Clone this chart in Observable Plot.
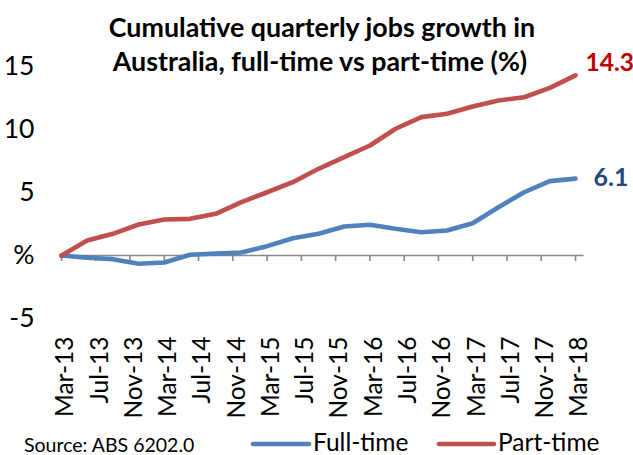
<!DOCTYPE html>
<html><head><meta charset="utf-8">
<script src="https://cdn.jsdelivr.net/npm/d3@7"></script>
<script src="https://cdn.jsdelivr.net/npm/@observablehq/plot@0.6"></script>
<style>
body{margin:0;background:#fff;}
#chart{width:633px;height:455px;overflow:hidden;}
svg{overflow:visible}
</style>
</head><body><div id="chart"></div>
<script>
const quarters = ["Mar-13","Jun-13","Sep-13","Dec-13","Mar-14","Jun-14","Sep-14","Dec-14","Mar-15","Jun-15","Sep-15","Dec-15","Mar-16","Jun-16","Sep-16","Dec-16","Mar-17","Jun-17","Sep-17","Dec-17","Mar-18"];
const fullTime = [0, -0.18, -0.29, -0.66, -0.56, 0.06, 0.16, 0.24, 0.74, 1.37, 1.72, 2.30, 2.44, 2.12, 1.85, 1.98, 2.56, 3.83, 5.02, 5.90, 6.1];
const partTime = [0, 1.19, 1.72, 2.46, 2.86, 2.91, 3.31, 4.23, 5.02, 5.82, 6.88, 7.80, 8.73, 10.06, 10.98, 11.25, 11.83, 12.30, 12.56, 13.30, 14.3];
const tickLabels = ["Mar-13","Jul-13","Nov-13","Mar-14","Jul-14","Nov-14","Mar-15","Jul-15","Nov-15","Mar-16","Jul-16","Nov-16","Mar-17","Jul-17","Nov-17","Mar-18"];
const yTicks = [-5, 0, 5, 10, 15];
const seriesNames = ["Full-time", "Part-time"];
const title = ["Cumulative quarterly jobs growth in", "Australia, full-time vs part-time (%)"];
const source = "Source: ABS 6202.0";

const MONTHS = ["Jan","Feb","Mar","Apr","May","Jun","Jul","Aug","Sep","Oct","Nov","Dec"];
const monthIndex = s => { const [m, y] = s.split("-"); return (2000 + (+y) - 2013) * 12 + MONTHS.indexOf(m) - 2; };

const rows = [];
quarters.forEach((q, i) => {
  rows.push({series: seriesNames[0], m: monthIndex(q), v: fullTime[i]});
  rows.push({series: seriesNames[1], m: monthIndex(q), v: partTime[i]});
});
const tickPos = tickLabels.map(monthIndex);
const labelOf = new Map(tickLabels.map(t => [monthIndex(t), t]));
const colors = {"Full-time": "#4F81BD", "Part-time": "#C0504D"};
const last = quarters.length - 1;
const ends = [
  {series: "Part-time", m: monthIndex(quarters[last]), v: partTime[last], label: partTime[last].toFixed(1)},
  {series: "Full-time", m: monthIndex(quarters[last]), v: fullTime[last], label: fullTime[last].toFixed(1)}
];

const FONT = "Lato, 'Open Sans', sans-serif";
const FS = 26.5;
const H = 455, MT = 66, MB = 137;
const unitPerPx = (yTicks[yTicks.length-1] - yTicks[0]) / (H - MT - MB);

const chart = Plot.plot({
  width: 633, height: H,
  marginLeft: 61, marginRight: 49.4, marginTop: MT, marginBottom: MB,
  style: {fontFamily: FONT, background: "#fff", color: "#000"},
  x: {domain: [0, 61], axis: null},
  y: {domain: [yTicks[0], yTicks[yTicks.length-1]], axis: null},
  marks: [
    Plot.axisY(yTicks, {label: null, tickSize: 0, tickPadding: 27, fontSize: FS, tickFormat: d => d === 0 ? "%" : String(d)}),
    Plot.axisX(tickPos, {label: null, tickSize: 0, tickPadding: 18, tickRotate: -90, fontSize: 24.5, dx: 4, tickFormat: d => labelOf.get(d)}),
    Plot.ruleY([0], {stroke: "#888", strokeWidth: 1.6}),
    Plot.ruleX(tickPos, {y1: 0, y2: -6 * unitPerPx, stroke: "#888", strokeWidth: 1.6}),
    Plot.lineY(rows.filter(d => d.series === "Full-time"), {x: "m", y: "v", stroke: colors["Full-time"], strokeWidth: 4.6, strokeLinecap: "round", strokeLinejoin: "round"}),
    Plot.lineY(rows.filter(d => d.series === "Part-time"), {x: "m", y: "v", stroke: colors["Part-time"], strokeWidth: 4.6, strokeLinecap: "round", strokeLinejoin: "round"}),
    Plot.text(ends.slice(0,1), {x: "m", y: "v", text: "label", dx: 10, dy: -12, textAnchor: "start", fill: "#C00000", fontWeight: "bold", fontSize: 24.5}),
    Plot.text(ends.slice(1), {x: "m", y: "v", text: "label", dx: 18, dy: -1, textAnchor: "start", fill: "#1F497D", fontWeight: "bold", fontSize: 25}),
  ]
});
document.getElementById("chart").appendChild(chart);

const svg = d3.select(chart);
const g = svg.append("g").attr("font-family", FONT).attr("fill", "#000");
g.append("text").attr("x", 322).attr("y", 36.5).attr("text-anchor", "middle").attr("font-weight", "bold").attr("font-size", 26.8).text(title[0]);
g.append("text").attr("x", 320).attr("y", 71).attr("text-anchor", "middle").attr("font-weight", "bold").attr("font-size", 26.8).text(title[1]);
g.append("text").attr("x", 24).attr("y", 451.5).attr("text-anchor", "start").attr("font-size", 19.5).text(source);
const leg = [{x1: 253, x2: 309, tx: 313, name: seriesNames[0]}, {x1: 439, x2: 494, tx: 498, name: seriesNames[1]}];
leg.forEach(l => {
  g.append("line").attr("x1", l.x1).attr("x2", l.x2).attr("y1", 444).attr("y2", 444).attr("stroke", colors[l.name]).attr("stroke-width", 4.6).attr("stroke-linecap", "round");
  g.append("text").attr("x", l.tx).attr("y", 451).attr("text-anchor", "start").attr("font-size", 24.5).text(l.name);
});
</script>
</body></html>
